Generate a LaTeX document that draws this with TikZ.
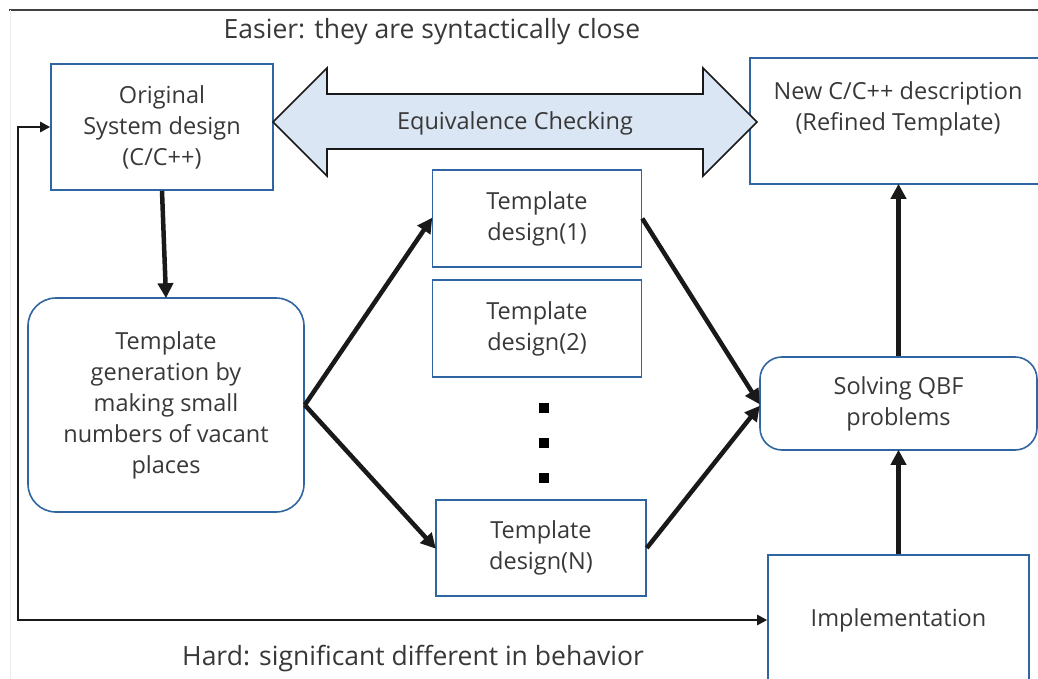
\documentclass[tikz,border=0pt]{standalone}
\usepackage{fontspec}
\setmainfont{Open Sans}
\usetikzlibrary{arrows.meta}
\definecolor{boxblue}{HTML}{2F65A0}
\definecolor{txt}{HTML}{383838}
\definecolor{lightfill}{HTML}{DAE6F3}
\tikzset{
  every node/.style={text=txt, font=\fontsize{23.5}{31}\selectfont, align=center, inner sep=0pt},
  caption/.style={font=\fontsize{26.5}{31}\selectfont},
  sqbox/.style={draw=boxblue, line width=1.6pt, rectangle},
  rbox/.style={draw=boxblue, line width=1.6pt, rectangle, rounded corners=28pt},
  bigarrow/.style={draw=black!90, line width=4.5pt, -{Triangle[length=15pt,width=15pt]}, shorten >=-1pt},
  loopline/.style={draw=black!90, line width=2.4pt, {Triangle[length=10pt,width=10pt]}-{Triangle[length=10pt,width=10pt]}},
  dotmark/.style={fill=black, minimum size=10pt, rectangle, inner sep=0pt},
}
\begin{document}
\begin{tikzpicture}[x=1pt,y=-1pt]
\useasboundingbox (0,0) rectangle (1038,679);
\clip (0,0) rectangle (1038,679);
% frame lines
\draw[black!75, line width=1.3pt] (9,10) -- (1038,10);
\draw[black!8, line width=0.8pt] (10,10) -- (10,679);
% texts
\node[caption] (easy) at (432,32) {Easier: they are syntactically close};
\node[caption] (hard) at (413,659) {Hard: significant different in behavior};
% boxes
\node[sqbox, minimum width=222pt, minimum height=126pt] (orig) at (162,127) {Original\\System design\\(C/C++)};
\node[sqbox, minimum width=290pt, minimum height=126pt] (new) at (895,121) {};
\node (newtxt) at (898,109) {New C/C++ description\\(Refined Template)};
\node[rbox, minimum width=276pt, minimum height=214pt] (gen) at (166,405) {Template\\generation by\\making small\\numbers of vacant\\places};
\node[sqbox, minimum width=209pt, minimum height=97pt] (t1) at (537,218.5) {Template\\design(1)};
\node[sqbox, minimum width=209pt, minimum height=97pt] (t2) at (537,328.5) {Template\\design(2)};
\node[sqbox, minimum width=210pt, minimum height=96pt] (tn) at (541,548) {Template\\design(N)};
\node[dotmark] (d1) at (544,408) {};
\node[dotmark] (d2) at (544,443) {};
\node[dotmark] (d3) at (544,478) {};
\node[rbox, rounded corners=22pt, minimum width=277pt, minimum height=93pt] (qbf) at (898.5,403.5) {Solving QBF\\problems};
\node[sqbox, minimum width=261pt, minimum height=130pt] (impl) at (898.5,620) {Implementation};
% equivalence double arrow
\draw[black!90, line width=1.6pt, fill=lightfill, line join=miter]
  (273,122) -- (327,68) -- (327,94) -- (703,94) -- (703,68) -- (757,122)
  -- (703,176) -- (703,149) -- (327,149) -- (327,176) -- cycle;
\node (eq) at (515,123) {Equivalence Checking};
% connectors
\draw[bigarrow] (orig.south) -- (gen.north);
\draw[bigarrow] (gen.east) -- (t1.west);
\draw[bigarrow] (gen.east) -- (tn.west);
\draw[bigarrow] (t1.east) -- (qbf.west);
\draw[bigarrow] (tn.east) -- ([yshift=-3pt]qbf.west);
\draw[bigarrow] (qbf.north) -- (new.south -| qbf.north);
\draw[bigarrow] (impl.north) -- (qbf.south);
\coordinate (lp) at (18,620);
\draw[loopline] (orig.west) -| (lp) -- (impl.west);
\end{tikzpicture}
\end{document}
